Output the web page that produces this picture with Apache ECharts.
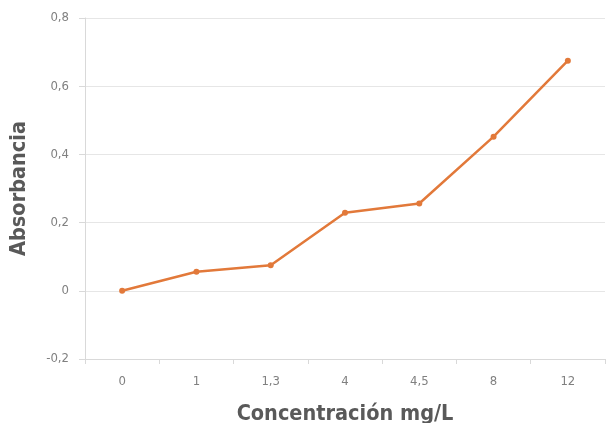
<!DOCTYPE html>
<html>
<head>
<meta charset="utf-8">
<script src="https://cdn.jsdelivr.net/npm/echarts@6/dist/echarts.min.js"></script>
<style>
  html, body { margin: 0; padding: 0; background: #fff; }
  #chart { width: 606px; height: 423px; }
</style>
</head>
<body>
<div id="chart"></div>
<script>
// Concentration categories (mg/L) and measured absorbance
const concentraciones = ['0', '1', '1,3', '4', '4,5', '8', '12'];
const absorbancia = [0, 0.056, 0.075, 0.229, 0.256, 0.452, 0.675];
const yMin = -0.2, yMax = 0.8, yStep = 0.2;

const fontFam = "'Liberation Sans Narrow', 'DejaVu Sans Condensed', 'Liberation Sans', sans-serif";
const fmt = v => (Math.round(v * 10) / 10).toString().replace('.', ',');

const chart = echarts.init(document.getElementById('chart'), null, { renderer: 'canvas' });
chart.setOption({
  animation: false,
  backgroundColor: '#ffffff',
  grid: { left: 85, right: 1, top: 18, bottom: 64, containLabel: false, outerBoundsMode: 'none' },
  xAxis: {
    type: 'category',
    data: concentraciones,
    boundaryGap: true,
    name: 'Concentración mg/L',
    nameLocation: 'middle',
    nameGap: 44,
    nameTextStyle: { fontFamily: fontFam, fontSize: 21.5, fontWeight: 'bold', color: '#595959' },
    axisLine: { show: true, onZero: false, lineStyle: { color: '#d9d9d9', width: 1 } },
    axisTick: { show: true, alignWithLabel: false, length: 5, lineStyle: { color: '#d9d9d9' } },
    axisLabel: { fontFamily: fontFam, fontSize: 13, color: '#808080', margin: 16 },
    splitLine: { show: false }
  },
  yAxis: {
    type: 'value',
    min: yMin, max: yMax, interval: yStep,
    name: 'Absorbancia',
    nameLocation: 'middle',
    nameGap: 55,
    nameRotate: 90,
    nameTextStyle: { fontFamily: fontFam, fontSize: 21.5, fontWeight: 'bold', color: '#595959' },
    axisLine: { show: true, lineStyle: { color: '#d9d9d9', width: 1 } },
    axisTick: { show: true, length: 6, lineStyle: { color: '#d9d9d9' } },
    axisLabel: { fontFamily: fontFam, fontSize: 13, color: '#808080', margin: 16, formatter: fmt },
    splitLine: { show: true, lineStyle: { color: '#e6e6e6', width: 1 } }
  },
  series: [{
    type: 'line',
    data: absorbancia,
    symbol: 'circle',
    symbolSize: 6,
    lineStyle: { color: '#E2793A', width: 2.5 },
    itemStyle: { color: '#E2793A' }
  }]
});
</script>
</body>
</html>
